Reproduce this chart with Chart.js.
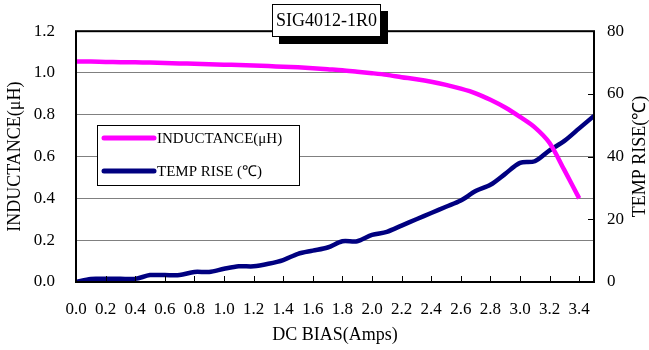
<!DOCTYPE html>
<html>
<head>
<meta charset="utf-8">
<script src="https://cdn.jsdelivr.net/npm/chart.js@4.4.1/dist/chart.umd.min.js"></script>
<style>
  html, body { margin: 0; padding: 0; background: #fff; }
  #wrap { width: 649px; height: 350px; }
</style>
</head>
<body>
<div id="wrap"><canvas id="c" width="649" height="350"></canvas></div>
<script>
// ---------- Data ----------
const chartTitle = 'SIG4012-1R0';
const labelL = 'INDUCTANCE(\u03bcH)';
const labelT = 'TEMP RISE (\u2103)';

// DC bias in amps
const biasL = [0.0, 0.1, 0.2, 0.3, 0.4, 0.5, 0.6, 0.7, 0.8, 0.9, 1.0, 1.1, 1.2, 1.3, 1.4, 1.5, 1.6, 1.7,
               1.8, 1.9, 2.0, 2.1, 2.2, 2.3, 2.4, 2.5, 2.6, 2.7, 2.8, 2.9, 3.0, 3.1, 3.2, 3.3, 3.4];
const inductance = [1.055, 1.055, 1.053, 1.052, 1.051, 1.050, 1.048, 1.046, 1.044, 1.042, 1.040, 1.038,
                    1.036, 1.033, 1.030, 1.027, 1.023, 1.018, 1.013, 1.006, 0.999, 0.991, 0.980, 0.970,
                    0.958, 0.943, 0.925, 0.903, 0.872, 0.835, 0.790, 0.740, 0.665, 0.535, 0.400];

const biasT = [0.0, 0.1, 0.2, 0.3, 0.4, 0.5, 0.6, 0.7, 0.8, 0.9, 1.0, 1.1, 1.2, 1.3, 1.4, 1.5, 1.6, 1.7,
               1.8, 1.9, 2.0, 2.1, 2.2, 2.3, 2.4, 2.5, 2.6, 2.7, 2.8, 2.9, 3.0, 3.1, 3.2, 3.3, 3.4, 3.5];
const tempRise = [0, 1, 1, 1, 1, 2.2, 2.2, 2.2, 3.2, 3.2, 4.2, 5, 5, 5.8, 7, 9, 10, 11,
                  13, 13, 15, 16, 18, 20, 22, 24, 26, 29, 31, 34.5, 38, 38.5, 42, 45, 49, 53];

// tick labels
const xTicks = [0.0, 0.2, 0.4, 0.6, 0.8, 1.0, 1.2, 1.4, 1.6, 1.8, 2.0, 2.2, 2.4, 2.6, 2.8, 3.0, 3.2, 3.4];
const yTicks = [0.0, 0.2, 0.4, 0.6, 0.8, 1.0, 1.2];
const y2Ticks = [0, 20, 40, 60, 80];

// ---------- Style ----------
const SERIF = '"Liberation Serif", "Times New Roman", serif';
const PINK = '#ff00ff';
const NAVY = '#000080';

// ---------- Extra drawing: frame, inward ticks, legend, title box ----------
const decorations = {
  id: 'decorations',
  afterDraw(chart) {
    const { ctx, chartArea: a, scales } = chart;
    ctx.save();

    // plot frame
    ctx.strokeStyle = '#000';
    ctx.lineWidth = 2;
    ctx.strokeRect(a.left, a.top, a.right - a.left, a.bottom - a.top);

    // inward tick marks on x axis
    ctx.lineWidth = 1;
    xTicks.forEach(v => {
      const px = Math.round(scales.x.getPixelForValue(v)) + 0.5;
      ctx.beginPath();
      ctx.moveTo(px, a.bottom);
      ctx.lineTo(px, a.bottom - 6);
      ctx.stroke();
    });
    // inward tick marks on right axis
    y2Ticks.forEach(v => {
      const py = Math.round(scales.y2.getPixelForValue(v)) + 0.5;
      ctx.beginPath();
      ctx.moveTo(a.right, py);
      ctx.lineTo(a.right - 6, py);
      ctx.stroke();
    });

    // right axis title, reads bottom to top like the left one
    ctx.fillStyle = '#000';
    ctx.font = '18px ' + SERIF;
    ctx.textAlign = 'center';
    ctx.textBaseline = 'middle';
    ctx.translate(640, (a.top + a.bottom) / 2);
    ctx.rotate(-Math.PI / 2);
    ctx.fillText('TEMP RISE(\u2103)', 0, 0);
    ctx.setTransform(1, 0, 0, 1, 0, 0);

    // legend box
    ctx.fillStyle = '#fff';
    ctx.fillRect(97, 125, 202, 60);
    ctx.strokeStyle = '#000';
    ctx.lineWidth = 1;
    ctx.strokeRect(97.5, 125.5, 202, 60);
    const items = chart.data.datasets;
    items.forEach((ds, i) => {
      const y = 138 + i * 33;
      ctx.strokeStyle = ds.borderColor;
      ctx.lineWidth = 5;
      ctx.lineCap = 'round';
      ctx.beginPath();
      ctx.moveTo(104, y);
      ctx.lineTo(154, y);
      ctx.stroke();
      ctx.fillStyle = '#000';
      ctx.font = '15px ' + SERIF;
      ctx.textAlign = 'left';
      ctx.textBaseline = 'middle';
      ctx.fillText(ds.label, 157, y + 1);
    });

    // title box with a dark drop shadow
    ctx.fillStyle = '#000';
    ctx.fillRect(279, 11, 109, 33);
    ctx.fillStyle = '#fff';
    ctx.fillRect(272, 4, 109, 33);
    ctx.lineWidth = 1;
    ctx.strokeStyle = '#000';
    ctx.strokeRect(272.5, 4.5, 108, 32);
    ctx.fillStyle = '#000';
    ctx.font = '18px ' + SERIF;
    ctx.textAlign = 'center';
    ctx.fillText(chartTitle, 326.5, 21.5);

    ctx.restore();
  }
};

// ---------- Chart ----------
const ctx = document.getElementById('c').getContext('2d');
new Chart(ctx, {
  type: 'line',
  data: {
    datasets: [
      {
        label: labelL,
        data: biasL.map((x, i) => ({ x: x, y: inductance[i] })),
        borderColor: PINK,
        borderWidth: 4.5,
        pointRadius: 0,
        tension: 0.3,
        yAxisID: 'y'
      },
      {
        label: labelT,
        data: biasT.map((x, i) => ({ x: x, y: tempRise[i] })),
        borderColor: NAVY,
        borderWidth: 4.5,
        pointRadius: 0,
        tension: 0.3,
        yAxisID: 'y2'
      }
    ]
  },
  options: {
    responsive: false,
    animation: false,
    layout: { padding: { top: 27, left: 0, right: 0, bottom: 0 } },
    plugins: { legend: { display: false }, tooltip: { enabled: false } },
    scales: {
      x: {
        type: 'linear',
        min: 0,
        max: 3.5,
        afterBuildTicks: s => { s.ticks = xTicks.map(v => ({ value: v })); },
        afterFit: s => { s.height = 68; },
        grid: { display: false, drawTicks: false },
        border: { display: false },
        ticks: {
          color: '#000',
          font: { family: SERIF, size: 17 },
          padding: 17,
          maxRotation: 0,
          autoSkip: false,
          callback: v => Number(v).toFixed(1)
        },
        title: {
          display: true,
          text: 'DC BIAS(Amps)',
          color: '#000',
          font: { family: SERIF, size: 18 },
          padding: { top: 0, bottom: 4 }
        }
      },
      y: {
        position: 'left',
        min: 0,
        max: 1.2,
        afterBuildTicks: s => { s.ticks = yTicks.map(v => ({ value: v })); },
        afterFit: s => { s.width = 76; },
        grid: { color: '#808080', lineWidth: 1, drawTicks: false },
        border: { display: false },
        ticks: {
          color: '#000',
          font: { family: SERIF, size: 17 },
          padding: 21,
          callback: v => Number(v).toFixed(1)
        },
        title: {
          display: true,
          text: 'INDUCTANCE(\u03bcH)',
          color: '#000',
          font: { family: SERIF, size: 18 },
          padding: { top: 4, bottom: 0 }
        }
      },
      y2: {
        position: 'right',
        min: 0,
        max: 80,
        afterBuildTicks: s => { s.ticks = y2Ticks.map(v => ({ value: v })); },
        afterFit: s => { s.width = 55; },
        grid: { display: false, drawOnChartArea: false, drawTicks: false },
        border: { display: false },
        ticks: {
          color: '#000',
          font: { family: SERIF, size: 17 },
          padding: 13
        }
      }
    }
  },
  plugins: [decorations]
});
</script>
</body>
</html>
